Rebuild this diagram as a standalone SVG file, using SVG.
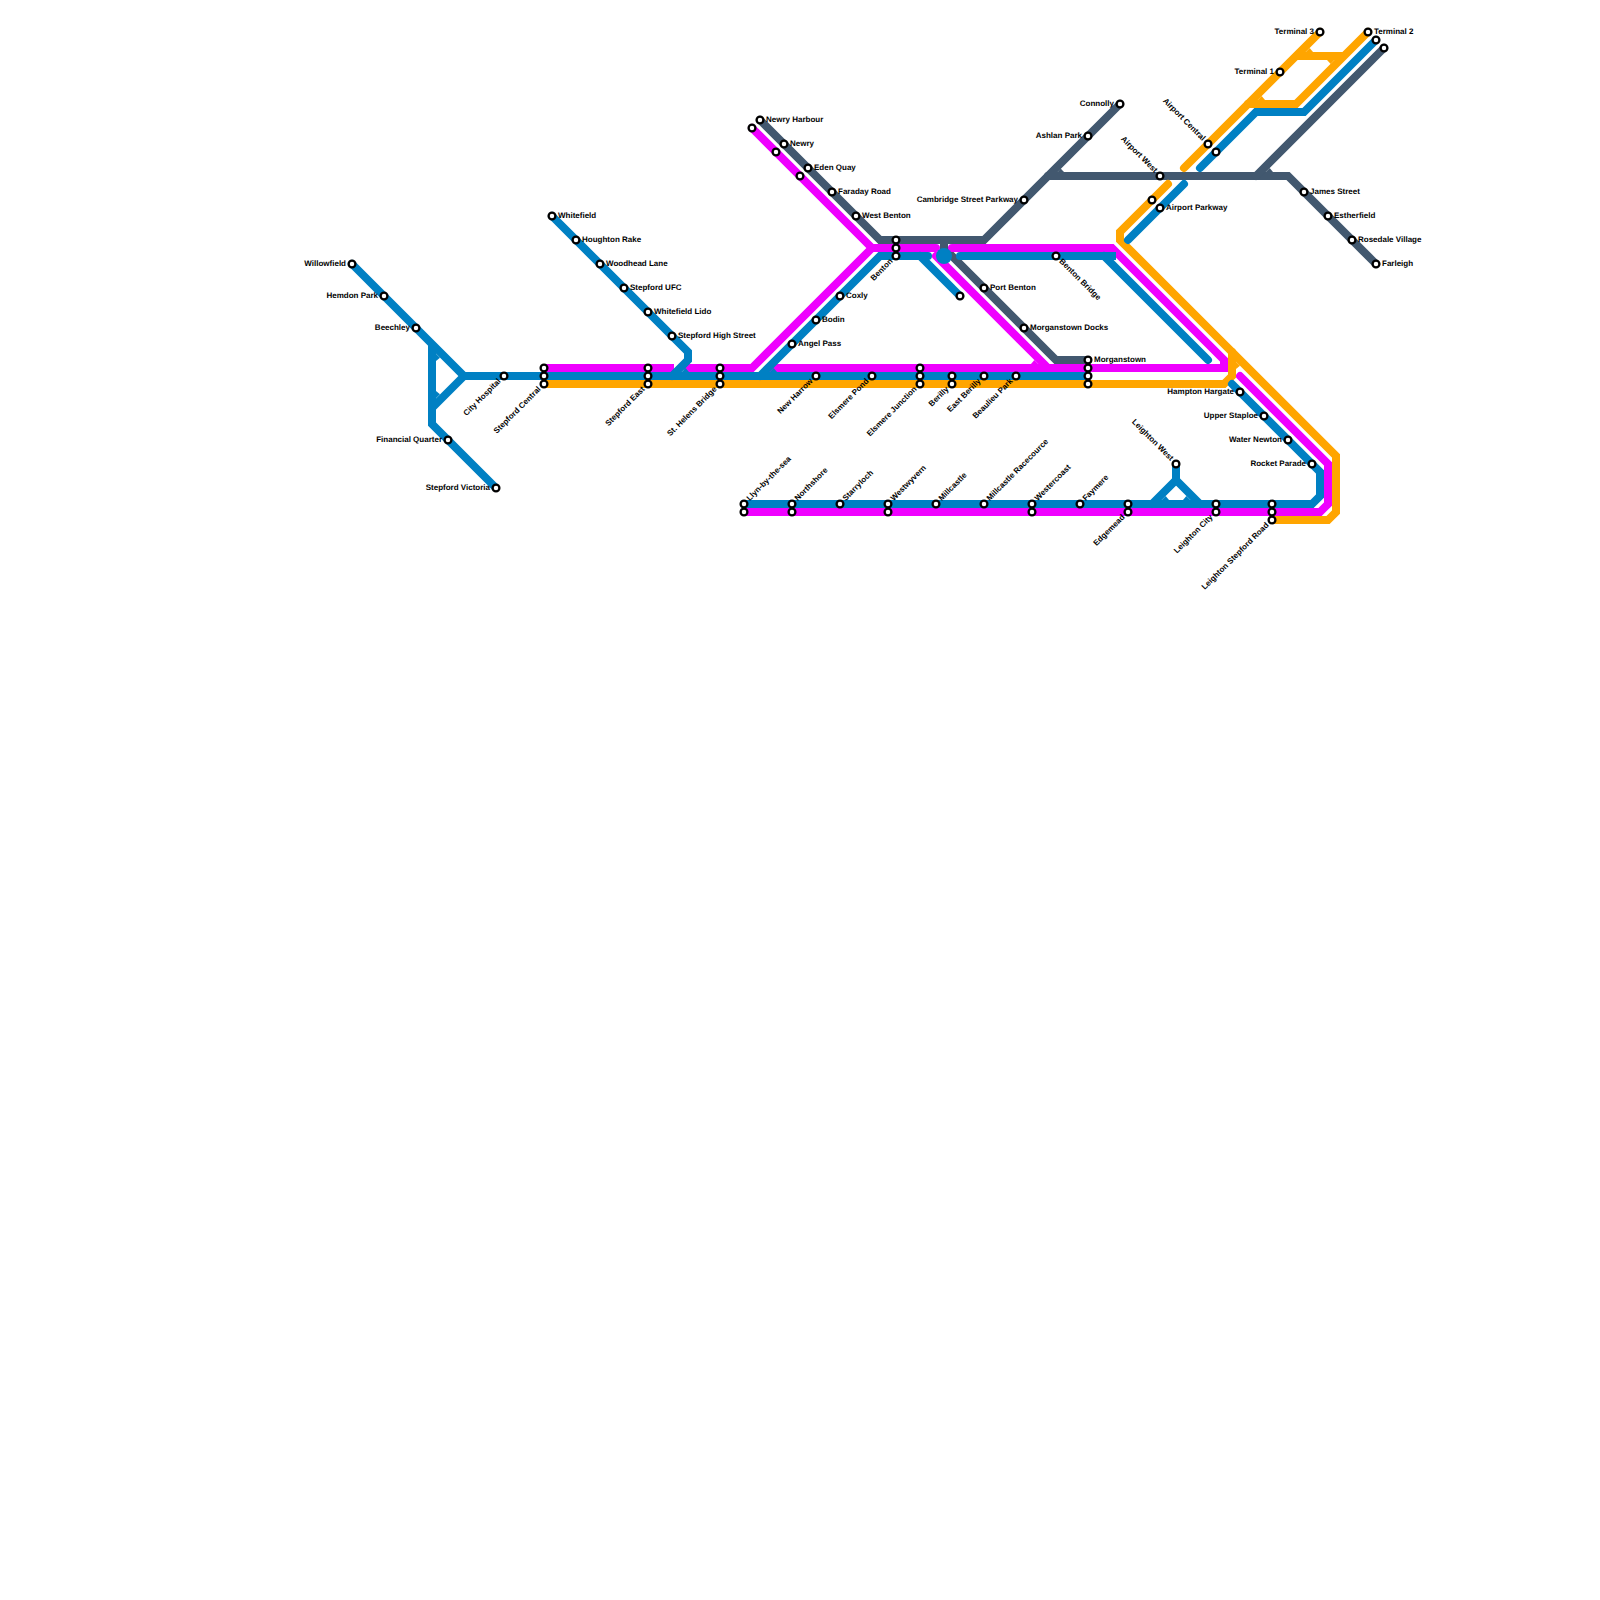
<svg xmlns="http://www.w3.org/2000/svg" width="1600" height="1600" viewBox="0 0 1600 1600">
<style>
.ln{fill:none;stroke-width:8;stroke-linecap:round;stroke-linejoin:miter}
.bt{stroke-linecap:butt}
.blue{stroke:#0080c3}.mag{stroke:#ef00ff}.org{stroke:#ffa500}.sla{stroke:#42586f}
.fb{fill:#0080c3}.fm{fill:#ef00ff}.fo{fill:#ffa500}.fs{fill:#42586f}
.st{fill:#fff;stroke:#000;stroke-width:2.3}
text{font-family:"Liberation Sans",Arial,sans-serif;font-size:8px;font-weight:700;fill:#000;text-rendering:geometricPrecision}
.e{text-anchor:end}
</style>
<rect width="1600" height="1600" fill="#fff"/>
<g id="connectors">
<g id="line-slate">
<path class="ln sla" d="M760 120L880 240H984L1120 104"/>
<path class="ln sla" d="M1048 176H1288L1376 264"/>
<path class="ln sla" d="M1256 176L1384 48"/>
<path class="ln sla" d="M944 240V248L1056 360H1088"/>
<polygon class="fs" points="1057.66,172 1064,172 1060.66,168.5"/>
<polygon class="fs" points="1265.66,172 1273,172 1269.66,168"/>
</g>
<g id="line-magenta">
<path class="ln mag" d="M752 128L872 248H936"/>
<path class="ln mag bt" d="M674 368H544"/>
<path class="ln mag bt" d="M684 368H752L872 248"/>
<path class="ln mag bt" d="M952 248H1112L1224 360V368H768"/>
<path class="ln mag" d="M952 248H953"/>
<path class="ln mag" d="M936 256L1048 368"/>
<path class="ln mag" d="M1240 376L1328 464V504L1320 512H744"/>
<polygon class="fm" points="1031,364 1038.34,364 1034.34,360"/>
</g>
<g id="line-orange">
<path class="ln org" d="M544 384H1224L1232 376V352"/>
<path class="ln org" d="M1168 184L1120 232V240L1336 456V512L1328 520H1272"/>
<path class="ln org" d="M1184 168L1320 32"/>
<path class="ln org" d="M1248 104H1296L1368 32"/>
<path class="ln org bt" d="M1296 56H1344"/>
<polygon class="fo" points="1236,361.66 1236,369 1240,365.66"/>
<polygon class="fo" points="1305.66,52 1313,52 1309.66,48"/>
<polygon class="fo" points="1257.66,100 1265,100 1261.66,96"/>
<polygon class="fo" points="1334.34,60 1327,60 1330.66,64"/>
</g>
<g id="line-blue">
<path class="ln blue" d="M352 264L464 376H1088"/>
<path class="ln blue bt" d="M432 344V424L496 488"/>
<path class="ln blue bt" d="M432 408L464 376"/>
<path class="ln blue" d="M552 216L688 352V360L672 376"/>
<path class="ln blue" d="M760 376L880 256H928"/>
<path class="ln blue" d="M920 256L960 296"/>
<path class="ln blue" d="M960 256H1108"/>
<path class="ln blue bt" d="M1100 256H1116"/>
<path class="ln blue" d="M1104 256L1208 360"/>
<path class="ln blue" d="M1232 384L1320 472V496L1312 504H744"/>
<path class="ln blue" d="M1176 464V480L1152 504"/>
<path class="ln blue" d="M1176 480L1200 504"/>
<path class="ln blue" d="M1128 240L1184 184"/>
<path class="ln blue" d="M1200 168L1256 112H1304L1376 40"/>
<circle class="fb" cx="944" cy="256" r="8"/>
<polygon class="fb" points="436,353.66 436,361 440,357.66"/>
<polygon class="fb" points="436,398.34 436,391 440,394.34"/>
<polygon class="fb" points="681.66,372 689,372 685.66,368"/>
<polygon class="fb" points="769.66,372 777,372 773.66,368"/>
<polygon class="fb" points="1161.66,500 1169,500 1165.66,496"/>
<polygon class="fb" points="1190.34,500 1183,500 1186.34,496"/>
</g>
</g>
<g id="nodes">
<g id="n-willowfield"><circle class="st" cx="352" cy="264" r="3.4"/><text class="e" x="346" y="266">Willowfield</text></g>
<g id="n-hemdon-park"><circle class="st" cx="384" cy="296" r="3.4"/><text class="e" x="378" y="298">Hemdon Park</text></g>
<g id="n-beechley"><circle class="st" cx="416" cy="328" r="3.4"/><text class="e" x="410" y="330">Beechley</text></g>
<g id="n-financial-quarter"><circle class="st" cx="448" cy="440" r="3.4"/><text class="e" x="442" y="442">Financial Quarter</text></g>
<g id="n-stepford-victoria"><circle class="st" cx="496" cy="488" r="3.4"/><text class="e" x="490" y="490">Stepford Victoria</text></g>
<g id="n-city-hospital"><circle class="st" cx="504" cy="376" r="3.4"/><text class="e" x="498" y="378" transform="rotate(-45 504 376)">City Hospital</text></g>
<g id="n-stepford-central-a"><circle class="st" cx="544" cy="368" r="3.4"/></g>
<g id="n-stepford-central-b"><circle class="st" cx="544" cy="376" r="3.4"/></g>
<g id="n-stepford-central"><circle class="st" cx="544" cy="384" r="3.4"/><text class="e" x="538" y="386" transform="rotate(-45 544 384)">Stepford Central</text></g>
<g id="n-stepford-east-a"><circle class="st" cx="648" cy="368" r="3.4"/></g>
<g id="n-stepford-east-b"><circle class="st" cx="648" cy="376" r="3.4"/></g>
<g id="n-stepford-east"><circle class="st" cx="648" cy="384" r="3.4"/><text class="e" x="642" y="386" transform="rotate(-45 648 384)">Stepford East</text></g>
<g id="n-st-helens-a"><circle class="st" cx="720" cy="368" r="3.4"/></g>
<g id="n-st-helens-b"><circle class="st" cx="720" cy="376" r="3.4"/></g>
<g id="n-st-helens"><circle class="st" cx="720" cy="384" r="3.4"/><text class="e" x="714" y="386" transform="rotate(-45 720 384)">St. Helens Bridge</text></g>
<g id="n-whitefield"><circle class="st" cx="552" cy="216" r="3.4"/><text x="558" y="218">Whitefield</text></g>
<g id="n-houghton-rake"><circle class="st" cx="576" cy="240" r="3.4"/><text x="582" y="242">Houghton Rake</text></g>
<g id="n-woodhead-lane"><circle class="st" cx="600" cy="264" r="3.4"/><text x="606" y="266">Woodhead Lane</text></g>
<g id="n-stepford-ufc"><circle class="st" cx="624" cy="288" r="3.4"/><text x="630" y="290">Stepford UFC</text></g>
<g id="n-whitefield-lido"><circle class="st" cx="648" cy="312" r="3.4"/><text x="654" y="314">Whitefield Lido</text></g>
<g id="n-stepford-high-street"><circle class="st" cx="672" cy="336" r="3.4"/><text x="678" y="338">Stepford High Street</text></g>
<g id="n-mag-1"><circle class="st" cx="752" cy="128" r="3.4"/></g>
<g id="n-mag-2"><circle class="st" cx="776" cy="152" r="3.4"/></g>
<g id="n-mag-3"><circle class="st" cx="800" cy="176" r="3.4"/></g>
<g id="n-newry-harbour"><circle class="st" cx="760" cy="120" r="3.4"/><text x="766" y="122">Newry Harbour</text></g>
<g id="n-newry"><circle class="st" cx="784" cy="144" r="3.4"/><text x="790" y="146">Newry</text></g>
<g id="n-eden-quay"><circle class="st" cx="808" cy="168" r="3.4"/><text x="814" y="170">Eden Quay</text></g>
<g id="n-faraday-road"><circle class="st" cx="832" cy="192" r="3.4"/><text x="838" y="194">Faraday Road</text></g>
<g id="n-west-benton"><circle class="st" cx="856" cy="216" r="3.4"/><text x="862" y="218">West Benton</text></g>
<g id="n-benton-a"><circle class="st" cx="896" cy="240" r="3.4"/></g>
<g id="n-benton-b"><circle class="st" cx="896" cy="248" r="3.4"/></g>
<g id="n-benton"><circle class="st" cx="896" cy="256" r="3.4"/><text class="e" x="890" y="258" transform="rotate(-45 896 256)">Benton</text></g>
<g id="n-coxly"><circle class="st" cx="840" cy="296" r="3.4"/><text x="846" y="298">Coxly</text></g>
<g id="n-bodin"><circle class="st" cx="816" cy="320" r="3.4"/><text x="822" y="322">Bodin</text></g>
<g id="n-angel-pass"><circle class="st" cx="792" cy="344" r="3.4"/><text x="798" y="346">Angel Pass</text></g>
<g id="n-branch-end"><circle class="st" cx="960" cy="296" r="3.4"/></g>
<g id="n-port-benton"><circle class="st" cx="984" cy="288" r="3.4"/><text x="990" y="290">Port Benton</text></g>
<g id="n-morganstown-docks"><circle class="st" cx="1024" cy="328" r="3.4"/><text x="1030" y="330">Morganstown Docks</text></g>
<g id="n-morganstown"><circle class="st" cx="1088" cy="360" r="3.4"/><text x="1094" y="362">Morganstown</text></g>
<g id="n-morganstown-b"><circle class="st" cx="1088" cy="368" r="3.4"/></g>
<g id="n-morganstown-c"><circle class="st" cx="1088" cy="376" r="3.4"/></g>
<g id="n-morganstown-d"><circle class="st" cx="1088" cy="384" r="3.4"/></g>
<g id="n-benton-bridge"><circle class="st" cx="1056" cy="256" r="3.4"/><text x="1062" y="258" transform="rotate(45 1056 256)">Benton Bridge</text></g>
<g id="n-new-harrow"><circle class="st" cx="816" cy="376" r="3.4"/><text class="e" x="810" y="378" transform="rotate(-45 816 376)">New Harrow</text></g>
<g id="n-elsmere-pond"><circle class="st" cx="872" cy="376" r="3.4"/><text class="e" x="866" y="378" transform="rotate(-45 872 376)">Elsmere Pond</text></g>
<g id="n-elsmere-a"><circle class="st" cx="920" cy="368" r="3.4"/></g>
<g id="n-elsmere-b"><circle class="st" cx="920" cy="376" r="3.4"/></g>
<g id="n-elsmere-junction"><circle class="st" cx="920" cy="384" r="3.4"/><text class="e" x="914" y="386" transform="rotate(-45 920 384)">Elsmere Junction</text></g>
<g id="n-berilly-a"><circle class="st" cx="952" cy="376" r="3.4"/></g>
<g id="n-berilly"><circle class="st" cx="952" cy="384" r="3.4"/><text class="e" x="946" y="386" transform="rotate(-45 952 384)">Berilly</text></g>
<g id="n-east-berilly"><circle class="st" cx="984" cy="376" r="3.4"/><text class="e" x="978" y="378" transform="rotate(-45 984 376)">East Berilly</text></g>
<g id="n-beaulieu-park"><circle class="st" cx="1016" cy="376" r="3.4"/><text class="e" x="1010" y="378" transform="rotate(-45 1016 376)">Beaulieu Park</text></g>
<g id="n-connolly"><circle class="st" cx="1120" cy="104" r="3.4"/><text class="e" x="1114" y="106">Connolly</text></g>
<g id="n-ashlan-park"><circle class="st" cx="1088" cy="136" r="3.4"/><text class="e" x="1082" y="138">Ashlan Park</text></g>
<g id="n-cambridge-street-parkway"><circle class="st" cx="1024" cy="200" r="3.4"/><text class="e" x="1018" y="202">Cambridge Street Parkway</text></g>
<g id="n-airport-west"><circle class="st" cx="1160" cy="176" r="3.4"/><text class="e" x="1154" y="178" transform="rotate(45 1160 176)">Airport West</text></g>
<g id="n-airport-central"><circle class="st" cx="1208" cy="144" r="3.4"/><text class="e" x="1202" y="146" transform="rotate(45 1208 144)">Airport Central</text></g>
<g id="n-airport-blue"><circle class="st" cx="1216" cy="152" r="3.4"/></g>
<g id="n-airport-orange"><circle class="st" cx="1152" cy="200" r="3.4"/></g>
<g id="n-airport-parkway"><circle class="st" cx="1160" cy="208" r="3.4"/><text x="1166" y="210">Airport Parkway</text></g>
<g id="n-terminal-1"><circle class="st" cx="1280" cy="72" r="3.4"/><text class="e" x="1274" y="74">Terminal 1</text></g>
<g id="n-terminal-3"><circle class="st" cx="1320" cy="32" r="3.4"/><text class="e" x="1314" y="34">Terminal 3</text></g>
<g id="n-terminal-2"><circle class="st" cx="1368" cy="32" r="3.4"/><text x="1374" y="34">Terminal 2</text></g>
<g id="n-terminal-2-blue"><circle class="st" cx="1376" cy="40" r="3.4"/></g>
<g id="n-terminal-2-slate"><circle class="st" cx="1384" cy="48" r="3.4"/></g>
<g id="n-james-street"><circle class="st" cx="1304" cy="192" r="3.4"/><text x="1310" y="194">James Street</text></g>
<g id="n-estherfield"><circle class="st" cx="1328" cy="216" r="3.4"/><text x="1334" y="218">Estherfield</text></g>
<g id="n-rosedale-village"><circle class="st" cx="1352" cy="240" r="3.4"/><text x="1358" y="242">Rosedale Village</text></g>
<g id="n-farleigh"><circle class="st" cx="1376" cy="264" r="3.4"/><text x="1382" y="266">Farleigh</text></g>
<g id="n-hampton-hargate"><circle class="st" cx="1240" cy="392" r="3.4"/><text class="e" x="1234" y="394">Hampton Hargate</text></g>
<g id="n-upper-staploe"><circle class="st" cx="1264" cy="416" r="3.4"/><text class="e" x="1258" y="418">Upper Staploe</text></g>
<g id="n-water-newton"><circle class="st" cx="1288" cy="440" r="3.4"/><text class="e" x="1282" y="442">Water Newton</text></g>
<g id="n-rocket-parade"><circle class="st" cx="1312" cy="464" r="3.4"/><text class="e" x="1306" y="466">Rocket Parade</text></g>
<g id="n-leighton-west"><circle class="st" cx="1176" cy="464" r="3.4"/><text class="e" x="1170" y="466" transform="rotate(45 1176 464)">Leighton West</text></g>
<g id="n-llyn"><circle class="st" cx="744" cy="504" r="3.4"/><text x="750" y="506" transform="rotate(-45 744 504)">Llyn-by-the-sea</text></g>
<g id="n-llyn-b"><circle class="st" cx="744" cy="512" r="3.4"/></g>
<g id="n-northshore"><circle class="st" cx="792" cy="504" r="3.4"/><text x="798" y="506" transform="rotate(-45 792 504)">Northshore</text></g>
<g id="n-northshore-b"><circle class="st" cx="792" cy="512" r="3.4"/></g>
<g id="n-starryloch"><circle class="st" cx="840" cy="504" r="3.4"/><text x="846" y="506" transform="rotate(-45 840 504)">Starryloch</text></g>
<g id="n-westwyvern"><circle class="st" cx="888" cy="504" r="3.4"/><text x="894" y="506" transform="rotate(-45 888 504)">Westwyvern</text></g>
<g id="n-westwyvern-b"><circle class="st" cx="888" cy="512" r="3.4"/></g>
<g id="n-millcastle"><circle class="st" cx="936" cy="504" r="3.4"/><text x="942" y="506" transform="rotate(-45 936 504)">Millcastle</text></g>
<g id="n-millcastle-racecource"><circle class="st" cx="984" cy="504" r="3.4"/><text x="990" y="506" transform="rotate(-45 984 504)">Millcastle Racecource</text></g>
<g id="n-westercoast"><circle class="st" cx="1032" cy="504" r="3.4"/><text x="1038" y="506" transform="rotate(-45 1032 504)">Westercoast</text></g>
<g id="n-westercoast-b"><circle class="st" cx="1032" cy="512" r="3.4"/></g>
<g id="n-faymere"><circle class="st" cx="1080" cy="504" r="3.4"/><text x="1086" y="506" transform="rotate(-45 1080 504)">Faymere</text></g>
<g id="n-edgemead-a"><circle class="st" cx="1128" cy="504" r="3.4"/></g>
<g id="n-edgemead"><circle class="st" cx="1128" cy="512" r="3.4"/><text class="e" x="1122" y="514" transform="rotate(-45 1128 512)">Edgemead</text></g>
<g id="n-leighton-city-a"><circle class="st" cx="1216" cy="504" r="3.4"/></g>
<g id="n-leighton-city"><circle class="st" cx="1216" cy="512" r="3.4"/><text class="e" x="1210" y="514" transform="rotate(-45 1216 512)">Leighton City</text></g>
<g id="n-leighton-stepford-a"><circle class="st" cx="1272" cy="504" r="3.4"/></g>
<g id="n-leighton-stepford-b"><circle class="st" cx="1272" cy="512" r="3.4"/></g>
<g id="n-leighton-stepford-road"><circle class="st" cx="1272" cy="520" r="3.4"/><text class="e" x="1266" y="522" transform="rotate(-45 1272 520)">Leighton Stepford Road</text></g>
</g>
</svg>
